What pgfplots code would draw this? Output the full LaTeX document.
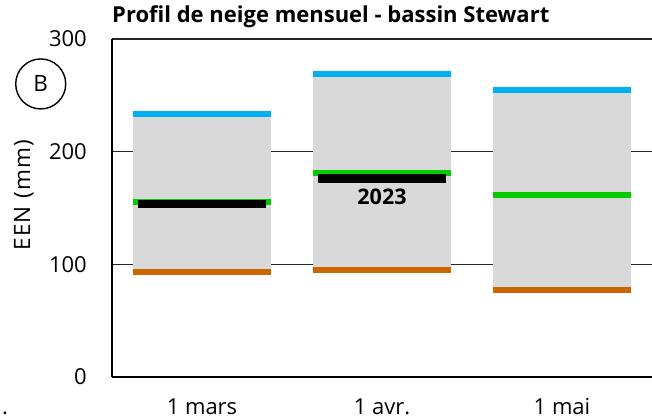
\documentclass[border=0pt]{standalone}
\usepackage{fontspec}
\setmainfont{Open Sans}
\usepackage{pgfplots}
\pgfplotsset{compat=1.18}
\definecolor{cgray}{HTML}{D9D9D9}
\definecolor{cblue}{HTML}{00B0F0}
\definecolor{cgreen}{HTML}{00CC00}
\definecolor{corange}{HTML}{CC6600}
\begin{document}
\begin{tikzpicture}[x=1pt,y=1pt]
\useasboundingbox (-112,-42) rectangle (540,377);
\begin{axis}[
  at={(0,0)}, anchor=south west,
  scale only axis, width=540pt, height=338pt,
  xmin=-0.5, xmax=2.5, ymin=0, ymax=300,
  clip=false,
  unbounded coords=jump,
  axis x line*=bottom, axis y line*=left,
  axis line style={line width=1.6pt, -},
  xtick={0,1,2}, xticklabels={1 mars, 1 avr., 1 mai},
  ytick={0,100,200,300},
  ymajorgrids, grid style={black!85, line width=1.4pt},
  major tick length=0pt,
  /pgf/number format/assume math mode=true,
  tick label style={font=\fontsize{22}{24}\selectfont},
  xticklabel style={anchor=base, yshift=-38pt, inner sep=0pt},
  yticklabel style={anchor=east, inner sep=0pt, xshift=-25pt},
  ylabel={EEN (mm)},
  ylabel style={at={(rel axis cs:-0.163,0.538)}, anchor=center, font=\addfontfeature{LetterSpace=6}\fontsize{22.5}{24}\selectfont},
  title={Profil de neige mensuel - bassin Stewart},
  title style={at={(rel axis cs:0,1)}, anchor=base west, yshift=10.7pt, inner sep=0pt, font=\bfseries\fontsize{22}{24}\selectfont},
]
% grey boxes (min to max)
\addplot[fill=cgray, draw=none] coordinates {(-0.386,92.9)(0.386,92.9)(0.386,233.7)(-0.386,233.7)};
\addplot[fill=cgray, draw=none] coordinates {(0.614,95.0)(1.386,95.0)(1.386,269.2)(0.614,269.2)};
\addplot[fill=cgray, draw=none] coordinates {(1.614,77.2)(2.386,77.2)(2.386,254.6)(1.614,254.6)};
% minimum
\addplot[corange, line width=6pt] coordinates {(-0.386,92.9)(0.386,92.9)(0,nan)(0.614,95.0)(1.386,95.0)(1,nan)(1.614,77.2)(2.386,77.2)};
% maximum
\addplot[cblue, line width=6pt] coordinates {(-0.386,233.7)(0.386,233.7)(0,nan)(0.614,269.2)(1.386,269.2)(1,nan)(1.614,254.6)(2.386,254.6)};
% median
\addplot[cgreen, line width=6pt] coordinates {(-0.386,155.3)(0.386,155.3)(0,nan)(0.614,181.2)(1.386,181.2)(1,nan)(1.614,161.8)(2.386,161.8)};
% 2023
\addplot[black, line width=8.5pt] coordinates {(-0.356,153.4)(0.356,153.4)(0,nan)(0.644,176.0)(1.356,176.0)};
\node[font=\bfseries\fontsize{21.5}{24}\selectfont] at (axis cs:1,160) {2023};
\node[circle, draw, line width=1.4pt, minimum size=50pt, inner sep=0pt, font=\fontsize{22.5}{24}\selectfont] at (rel axis cs:-0.132,0.867) {B};
\node[anchor=base, inner sep=0pt, font=\fontsize{22}{24}\selectfont] at (rel axis cs:-0.198,-0.1124) {.};
\end{axis}
\end{tikzpicture}
\end{document}
